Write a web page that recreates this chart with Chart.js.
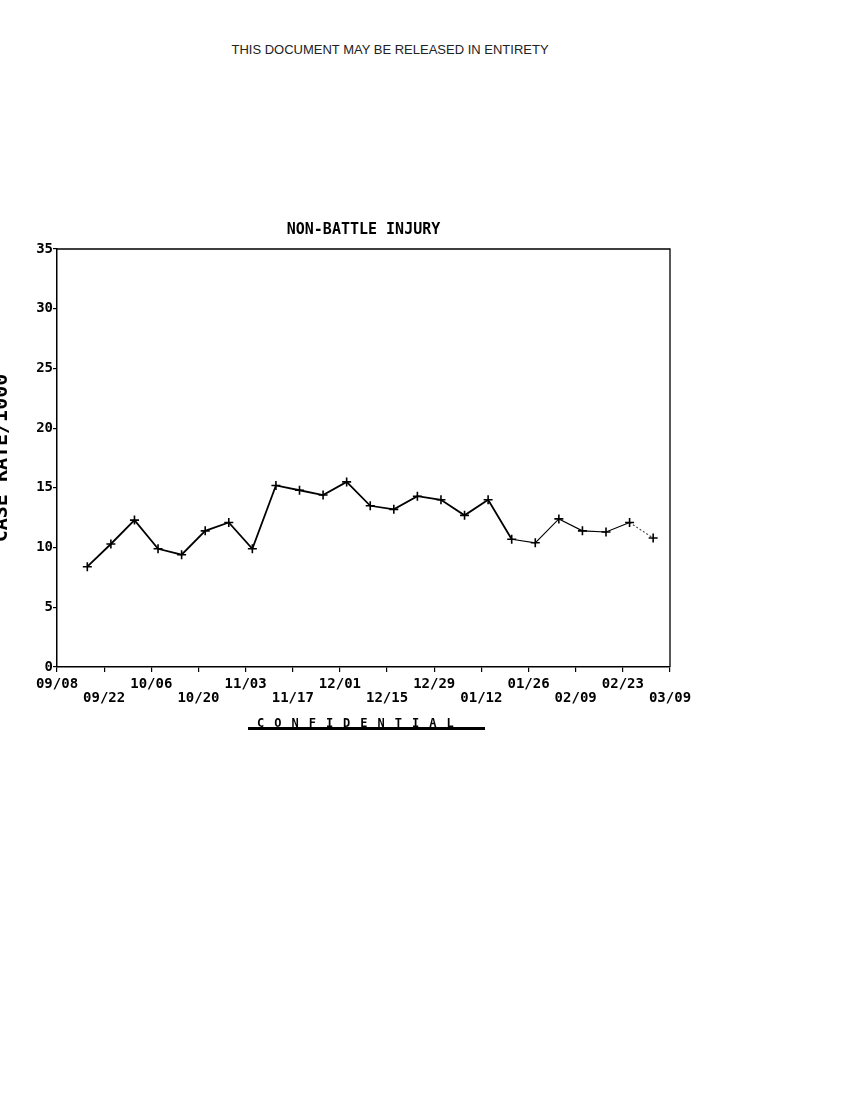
<!DOCTYPE html>
<html>
<head>
<meta charset="utf-8">
<title>Non-Battle Injury</title>
<script src="https://cdn.jsdelivr.net/npm/chart.js@4/dist/chart.umd.min.js"></script>
<style>
  body { margin: 0; background: #fff; width: 850px; height: 1100px; position: relative; overflow: hidden; }
  #banner { position: absolute; top: 42px; left: 0; width: 780px; text-align: center;
            font: 13px "Liberation Sans", Arial, sans-serif; color: #222; }
  #graph { position: absolute; left: -10px; top: 200px; }
  #stamp { position: absolute; left: 257px; top: 716px; white-space: nowrap;
           font: bold 12px "DejaVu Sans Mono", monospace; letter-spacing: 10px; color: #000; }
  #stampLine { position: absolute; left: 248px; top: 727px; width: 237px; height: 3px; background: #000; }
</style>
</head>
<body>
<div id="banner">THIS DOCUMENT MAY BE RELEASED IN ENTIRETY</div>
<canvas id="graph" width="740" height="540"></canvas>
<div id="stampLine"></div>
<div id="stamp">CONFIDENTIAL</div>
<script>
// Tick labels every two weeks, starting 09/08
const tickLabels = ['09/08', '09/22', '10/06', '10/20', '11/03', '11/17', '12/01',
                    '12/15', '12/29', '01/12', '01/26', '02/09', '02/23', '03/09'];

// Days after 09/08 for each weekly point
const dayOffsets = [9, 16, 23, 30, 37, 44, 51, 58, 65, 72, 79, 86, 93,
                    100, 107, 114, 121, 128, 135, 142, 149, 156, 163, 170, 177];

// Case rate per 1000
const caseRates = [8.4, 10.3, 12.3, 9.9, 9.4, 11.4, 12.1, 9.9, 15.2, 14.8, 14.4, 15.5, 13.5,
                   13.2, 14.3, 14.0, 12.7, 14.0, 10.7, 10.4, 12.4, 11.4, 11.3, 12.1, 10.8];

const MONO = '"DejaVu Sans Mono", monospace';

// Draws the top and right edges of the plot frame
const frameBox = {
    id: 'frameBox',
    afterDraw: (chart) => {
        const { ctx, chartArea: { left, right, top, bottom } } = chart;
        ctx.save();
        ctx.strokeStyle = '#000';
        ctx.lineWidth = 1.3;
        ctx.beginPath();
        ctx.moveTo(left, top);
        ctx.lineTo(right, top);
        ctx.lineTo(right, bottom);
        ctx.stroke();
        ctx.restore();
    }
};

const ctx = document.getElementById('graph').getContext('2d');

new Chart(ctx, {
    type: 'line',
    data: {
        datasets: [{
            data: dayOffsets.map((d, i) => ({ x: d, y: caseRates[i] })),
            borderColor: '#000',
            borderWidth: 1.8,
            pointStyle: 'cross',
            pointRadius: 4.5,
            pointBorderWidth: 1.6,
            pointBorderColor: '#000',
            tension: 0,
            segment: {
                borderWidth: (c) => c.p0DataIndex >= 18 ? 1.1 : 1.8,
                borderColor: (c) => c.p0DataIndex >= 23 ? '#444' : '#000',
                borderDash: (c) => c.p0DataIndex >= 23 ? [2, 2] : undefined
            }
        }]
    },
    options: {
        responsive: false,
        animation: false,
        events: [],
        layout: { padding: { left: 0, right: 60, top: 0, bottom: 23 } },
        plugins: {
            legend: { display: false },
            tooltip: { enabled: false },
            title: {
                display: true,
                text: 'NON-BATTLE INJURY',
                fullSize: false,
                color: '#000',
                font: { family: MONO, size: 15, weight: 'bold', lineHeight: 1.2 },
                padding: { top: 21, bottom: 10 }
            }
        },
        scales: {
            x: {
                type: 'linear',
                min: 0,
                max: 182,
                afterFit: (s) => { s.height = 50; },
                border: { display: true, color: '#000', width: 1.5 },
                grid: { display: true, drawOnChartArea: false, drawTicks: true, tickLength: 5, color: '#000', lineWidth: 1.2 },
                ticks: {
                    stepSize: 14,
                    autoSkip: false,
                    maxRotation: 0,
                    padding: 5,
                    color: '#000',
                    font: { family: MONO, size: 14, weight: 'bold', lineHeight: 1.0 },
                    callback: (value) => {
                        const i = Math.round(value / 14);
                        const lab = tickLabels[i];
                        return i % 2 === 0 ? lab : ['', lab];
                    }
                }
            },
            y: {
                min: 0,
                max: 35,
                afterFit: (s) => { s.width = 67; },
                border: { display: true, color: '#000', width: 1.5 },
                grid: { display: true, drawOnChartArea: false, drawTicks: true, tickLength: 4, color: '#000', lineWidth: 1.2 },
                ticks: {
                    stepSize: 5,
                    padding: 0,
                    color: '#000',
                    font: { family: MONO, size: 14, weight: 'bold' }
                },
                title: {
                    display: true,
                    text: 'CASE RATE/1000',
                    color: '#000',
                    font: { family: MONO, size: 20, weight: 'bold', lineHeight: 1.2 },
                    padding: 0
                }
            }
        }
    },
    plugins: [frameBox]
});
</script>
</body>
</html>
